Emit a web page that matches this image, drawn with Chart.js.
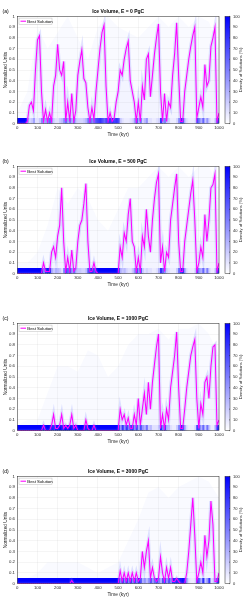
<!DOCTYPE html>
<html>
<head>
<meta charset="utf-8">
<script src="https://cdn.jsdelivr.net/npm/chart.js@4.4.1/dist/chart.umd.min.js"></script>
<style>
  body { margin: 0; background: #fff; width: 246px; height: 600px; position: relative; overflow: hidden; }
  canvas { position: absolute; left: 0; }
</style>
</head>
<body>
<canvas id="panelA" width="246" height="140" style="top:0px"></canvas>
<canvas id="panelB" width="246" height="140" style="top:150px"></canvas>
<canvas id="panelC" width="246" height="140" style="top:307px"></canvas>
<canvas id="panelD" width="246" height="140" style="top:460px"></canvas>
<script>
// time grid (kyr) for the best-solution curve, the 10 kyr density bins and the 50 kyr envelope
const kyr = Array.from({ length: 101 }, (_, i) => i * 10);
const binCentres = Array.from({ length: 100 }, (_, i) => i * 10 + 5);
const envKyr = Array.from({ length: 21 }, (_, i) => i * 50);

const titles = ['Ice Volume, E = 0 PgC', 'Ice Volume, E = 500 PgC', 'Ice Volume, E = 1000 PgC', 'Ice Volume, E = 3000 PgC'];
const letters = ['(a)', '(b)', '(c)', '(d)'];

// best solution, normalized ice volume every 10 kyr
const iceA = [0, 0, 0, 0, 0, 0.02, 0.17, 0.2, 0.12, 0.5,
  0.78, 0.82, 0.3, 0.02, 0.13, 0.02, 0.1, 0.02, 0.35, 0.45,
  0.74, 0.5, 0.45, 0.58, 0.02, 0.2, 0.02, 0.28, 0.02, 0.12,
  0.45, 0.58, 0.69, 0.42, 0.38, 0.15, 0.02, 0.15, 0.04, 0.3,
  0.5, 0.7, 0.85, 0.92, 0.35, 0.02, 0.1, 0.02, 0.05, 0.2,
  0.3, 0.5, 0.45, 0.6, 0.7, 0.77, 0.4, 0.3, 0.2, 0.02,
  0.2, 0.02, 0.35, 0.22, 0.6, 0.65, 0.25, 0.45, 0.65, 0.8,
  0.93, 0.3, 0.02, 0.28, 0.02, 0.2, 0.15, 0.45, 0.65, 0.94,
  0.45, 0.02, 0.02, 0.3, 0.45, 0.6, 0.72, 0.82, 0.9, 0.05,
  0.15, 0.25, 0.15, 0.55, 0.35, 0.4, 0.72, 0.8, 0.9, 0.02,
  0.1];
const iceB = [0, 0, 0, 0, 0, 0, 0, 0, 0, 0,
  0, 0, 0, 0.1, 0.02, 0.02, 0.02, 0.2, 0.25, 0.15,
  0.35, 0.45, 0.8, 0.3, 0.02, 0.15, 0.02, 0.22, 0.02, 0.05,
  0.3, 0.45, 0.5, 0.65, 0.84, 0.3, 0.02, 0.02, 0.1, 0.02,
  0, 0, 0, 0, 0, 0, 0, 0, 0, 0,
  0, 0.25, 0.15, 0.38, 0.3, 0.55, 0.7, 0.3, 0.25, 0.02,
  0.15, 0.02, 0.35, 0.25, 0.6, 0.35, 0.2, 0.5, 0.7, 0.85,
  0.93, 0.1, 0.25, 0.02, 0.2, 0.15, 0.5, 0.65, 0.8, 0.93,
  0.3, 0.02, 0.02, 0.3, 0.45, 0.6, 0.75, 0.87, 0.5, 0.02,
  0.1, 0.25, 0.15, 0.55, 0.3, 0.5, 0.8, 0.83, 0.93, 0.02,
  0.1];
const iceC = [0, 0, 0, 0, 0, 0, 0, 0, 0, 0,
  0, 0, 0, 0.05, 0, 0, 0, 0.05, 0.15, 0.02,
  0.02, 0.05, 0.15, 0.02, 0.05, 0.02, 0.05, 0.15, 0.02, 0.05,
  0, 0, 0, 0, 0.1, 0.02, 0, 0, 0.05, 0,
  0, 0, 0, 0, 0, 0, 0, 0, 0, 0,
  0, 0.2, 0.1, 0.15, 0.05, 0.12, 0.02, 0.02, 0.15, 0.05,
  0.3, 0.05, 0.2, 0.35, 0.15, 0.45, 0.2, 0.45, 0.62, 0.78,
  0.9, 0.02, 0.15, 0.02, 0.2, 0.1, 0.4, 0.55, 0.7, 0.92,
  0.4, 0.02, 0.02, 0.2, 0.4, 0.55, 0.7, 0.78, 0.85, 0.3,
  0.02, 0.25, 0.15, 0.45, 0.5, 0.3, 0.6, 0.78, 0.8, 0.05,
  0.1];
const iceD = [0, 0, 0, 0, 0, 0, 0, 0, 0, 0,
  0, 0, 0, 0, 0, 0, 0, 0, 0, 0,
  0, 0, 0, 0, 0, 0, 0, 0.03, 0, 0,
  0, 0, 0, 0, 0, 0, 0, 0, 0, 0,
  0, 0, 0, 0, 0, 0, 0, 0, 0, 0,
  0, 0.12, 0.02, 0.1, 0.02, 0.1, 0.02, 0.1, 0.02, 0.1,
  0.02, 0.05, 0.3, 0.15, 0.3, 0.4, 0.05, 0.15, 0.05, 0.02,
  0.05, 0.25, 0.1, 0.02, 0.15, 0.05, 0.15, 0.02, 0.02, 0.05,
  0.02, 0, 0, 0, 0.1, 0.3, 0.55, 0.8, 0.45, 0.02,
  0.1, 0.2, 0.1, 0.45, 0.25, 0.4, 0.77, 0.55, 0.02, 0.02,
  0.1];

// density of solutions (%) in the lowest cell (0-0.05) for each 10 kyr bin
const bandA = [100, 100, 100, 100, 100, 35, 15, 20, 35, 10,
  10, 20, 45, 30, 35, 50, 60, 30, 15, 10,
  10, 20, 25, 45, 60, 30, 55, 25, 50, 20,
  15, 15, 15, 20, 30, 55, 65, 45, 60, 70,
  75, 80, 70, 60, 75, 85, 80, 85, 75, 80,
  70, 20, 10, 5, 5, 5, 10, 15, 35, 75,
  30, 55, 15, 25, 40, 10, 10, 5, 5, 10,
  15, 80, 40, 50, 20, 15, 5, 5, 5, 15,
  45, 85, 70, 20, 10, 5, 5, 5, 10, 75,
  50, 30, 60, 20, 40, 15, 5, 5, 20, 80];
const bandB = [100, 100, 100, 100, 100, 100, 100, 100, 100, 100,
  100, 100, 90, 50, 90, 95, 90, 30, 20, 30,
  25, 20, 10, 50, 80, 60, 75, 35, 60, 25,
  20, 20, 15, 15, 25, 70, 85, 90, 70, 95,
  100, 100, 100, 100, 100, 100, 100, 100, 100, 100,
  100, 30, 20, 25, 15, 10, 10, 20, 40, 80,
  40, 75, 20, 10, 15, 10, 10, 5, 5, 10,
  30, 80, 60, 40, 15, 10, 5, 5, 5, 20,
  60, 85, 90, 30, 10, 5, 5, 5, 15, 80,
  40, 30, 60, 20, 50, 15, 5, 5, 20, 85];
const bandC = [100, 100, 100, 100, 100, 100, 100, 100, 100, 100,
  100, 100, 100, 95, 100, 100, 100, 90, 85, 100,
  100, 100, 90, 100, 100, 100, 100, 90, 100, 100,
  100, 100, 100, 100, 90, 100, 100, 100, 95, 100,
  100, 100, 100, 100, 100, 100, 100, 100, 100, 100,
  100, 40, 80, 45, 85, 50, 80, 85, 45, 80,
  35, 70, 40, 30, 55, 20, 25, 10, 10, 10,
  20, 85, 50, 80, 30, 20, 10, 5, 5, 20,
  50, 90, 75, 30, 10, 5, 5, 5, 15, 80,
  70, 30, 60, 20, 55, 20, 5, 5, 30, 85];
const bandD = [100, 100, 100, 100, 100, 100, 100, 100, 100, 100,
  100, 100, 100, 100, 100, 100, 100, 100, 100, 100,
  100, 100, 100, 100, 100, 100, 95, 100, 100, 100,
  100, 100, 100, 100, 100, 100, 100, 100, 100, 100,
  100, 100, 100, 100, 100, 100, 100, 100, 100, 100,
  100, 45, 95, 45, 95, 45, 95, 45, 90, 50,
  90, 70, 30, 40, 25, 40, 70, 40, 60, 75,
  50, 30, 70, 80, 40, 70, 45, 90, 85, 90,
  85, 90, 95, 85, 30, 10, 5, 5, 10, 85,
  60, 30, 90, 20, 40, 80, 10, 15, 30, 85];

// upper reach of the faint ensemble traces, every 50 kyr
const envA = [0.1, 0.3, 0.9, 0.7, 0.85, 1.0, 0.8, 0.6, 0.9, 1.0, 0.9, 0.85, 0.8, 0.9, 1.0, 0.9, 1.0, 0.9, 1.0, 0.95, 0.7];
const envB = [0.1, 0.1, 0.2, 0.45, 0.8, 0.65, 0.8, 0.7, 0.5, 0.4, 0.6, 0.8, 0.8, 0.9, 1.0, 0.9, 1.0, 0.9, 1.0, 1.0, 0.8];
const envC = [0.05, 0.1, 0.1, 0.35, 0.6, 0.6, 0.55, 0.75, 0.7, 0.5, 0.6, 0.8, 0.9, 0.9, 0.95, 0.85, 0.95, 0.95, 1.0, 0.9, 0.7];
const envD = [0.05, 0.05, 0.1, 0.2, 0.2, 0.2, 0.2, 0.15, 0.1, 0.15, 0.2, 0.4, 0.6, 0.85, 0.9, 0.8, 0.9, 0.95, 1.0, 0.95, 0.8];

const FONT = '"Liberation Sans", Arial, sans-serif';
Chart.defaults.font.family = FONT;
Chart.defaults.color = '#262626';

// white -> blue colormap (opaque)
function densityColor(d) {
  const c = Math.round(255 * (1 - d / 100));
  return 'rgb(' + c + ',' + c + ',255)';
}

// axes box, legend, colorbar, panel letter
const decorations = {
  id: 'decorations',
  afterDatasetsDraw(chart) {
    const { ctx, chartArea: a } = chart;
    const best = chart.data.datasets[0];
    const lx = a.left + 1.7, ly = a.top + 1.7, lw = 33, lh = 6.2;
    ctx.save();
    ctx.fillStyle = '#fff';
    ctx.strokeStyle = '#bdbdbd';
    ctx.lineWidth = 0.5;
    ctx.fillRect(lx, ly, lw, lh);
    ctx.strokeRect(lx, ly, lw, lh);
    ctx.strokeStyle = best.borderColor;
    ctx.lineWidth = best.borderWidth;
    ctx.beginPath();
    ctx.moveTo(lx + 1.5, ly + lh / 2);
    ctx.lineTo(lx + 7, ly + lh / 2);
    ctx.stroke();
    ctx.fillStyle = '#000';
    ctx.font = '4.3px ' + FONT;
    ctx.textAlign = 'left';
    ctx.textBaseline = 'middle';
    ctx.fillText(best.label, lx + 8.3, ly + lh / 2 + 0.2);
    ctx.restore();
  },
  afterDraw(chart, args, opts) {
    const { ctx, chartArea: a, scales } = chart;
    const yc = scales.yc;
    ctx.save();
    ctx.strokeStyle = '#262626';
    ctx.lineWidth = 0.5;
    ctx.strokeRect(a.left, a.top, a.right - a.left, a.bottom - a.top);

    // colorbar
    const x0 = a.right + 6, w = 5;
    const top = yc.getPixelForValue(100), bot = yc.getPixelForValue(0);
    const g = ctx.createLinearGradient(0, bot, 0, top);
    g.addColorStop(0, densityColor(0));
    g.addColorStop(1, densityColor(100));
    ctx.fillStyle = g;
    ctx.fillRect(x0, top, w, bot - top);
    ctx.strokeRect(x0, top, w, bot - top);
    yc.ticks.forEach(t => {
      const y = yc.getPixelForValue(t.value);
      ctx.beginPath();
      ctx.moveTo(x0 + w - 1, y);
      ctx.lineTo(x0 + w, y);
      ctx.stroke();
    });

    ctx.fillStyle = '#262626';
    ctx.font = '4.2px ' + FONT;
    ctx.textAlign = 'center';
    ctx.textBaseline = 'middle';
    ctx.translate(241, (top + bot) / 2);
    ctx.rotate(-Math.PI / 2);
    ctx.fillText('Density of Solutions (%)', 0, 0);
    ctx.restore();

    ctx.save();
    ctx.fillStyle = '#000';
    ctx.font = '5px ' + FONT;
    ctx.textAlign = 'left';
    ctx.textBaseline = 'middle';
    ctx.fillText(opts.letter, 2.5, a.top - 5);
    ctx.restore();
  }
};

function makePanel(id, ice, band, env, title, letter) {
  const curve = kyr.map((t, i) => ({ x: t, y: ice[i] }));
  new Chart(document.getElementById(id), {
    type: 'bar',
    data: {
      datasets: [
        {
          type: 'line',
          label: 'Best Solution',
          data: curve,
          borderColor: '#ff00ff',
          borderWidth: 1.05,
          pointRadius: 0,
          tension: 0,
          order: 0
        },
        {
          type: 'line',
          label: 'near-best solutions',
          data: curve,
          borderColor: 'rgba(110,120,255,0.2)',
          borderWidth: 3.5,
          fill: 'origin',
          backgroundColor: 'rgba(90,100,255,0.04)',
          pointRadius: 0,
          tension: 0,
          order: 1
        },
        {
          type: 'line',
          label: 'ensemble reach',
          data: envKyr.map((t, i) => ({ x: t, y: env[i] })),
          borderWidth: 0,
          fill: 'origin',
          backgroundColor: 'rgba(90,100,255,0.035)',
          pointRadius: 0,
          tension: 0,
          order: 3
        },
        {
          type: 'bar',
          label: 'density',
          data: binCentres.map(t => ({ x: t, y: [0, 0.05] })),
          backgroundColor: band.map(densityColor),
          borderWidth: 0,
          barThickness: 2.4,
          grouped: false,
          order: 2
        }
      ]
    },
    options: {
      responsive: false,
      animation: false,
      events: [],
      layout: { padding: 0 },
      plugins: {
        title: {
          display: true,
          text: title,
          fullSize: false,
          color: '#000',
          font: { size: 5, weight: 'bold' },
          padding: { top: 2.7, bottom: 1.8 }
        },
        legend: { display: false },
        tooltip: { enabled: false },
        decorations: { letter: letter }
      },
      scales: {
        x: {
          type: 'linear',
          min: 0,
          max: 1000,
          offset: false,
          grid: { offset: false, color: 'rgba(0,0,0,0.08)', lineWidth: 0.5, drawTicks: false },
          border: { display: false },
          ticks: { stepSize: 100, autoSkip: false, maxRotation: 0, padding: 1.5, font: { size: 4.3 }, callback: v => String(v) },
          title: { display: true, text: 'Time (kyr)', font: { size: 4.8 }, padding: { top: 0, bottom: 2 } },
          afterFit: s => { s.height = 15.5; }
        },
        y: {
          min: 0,
          max: 1,
          grid: { color: 'rgba(0,0,0,0.08)', lineWidth: 0.5, drawTicks: false },
          border: { display: false },
          ticks: { stepSize: 0.1, autoSkip: false, padding: 2.3, font: { size: 4.3 }, callback: v => String(Math.round(v * 10) / 10) },
          title: { display: true, text: 'Normalized Units', font: { size: 4.8 }, padding: { top: 2.5, bottom: 0 } },
          afterFit: s => { s.width = 17.3; }
        },
        yc: {
          position: 'right',
          min: 0,
          max: 100,
          grid: { display: false, drawTicks: false },
          border: { display: false },
          ticks: { stepSize: 10, autoSkip: false, padding: 14, font: { size: 4 } },
          afterFit: s => { s.width = 27; }
        }
      }
    },
    plugins: [decorations]
  });
}

makePanel('panelA', iceA, bandA, envA, titles[0], letters[0]);
makePanel('panelB', iceB, bandB, envB, titles[1], letters[1]);
makePanel('panelC', iceC, bandC, envC, titles[2], letters[2]);
makePanel('panelD', iceD, bandD, envD, titles[3], letters[3]);
</script>
</body>
</html>
